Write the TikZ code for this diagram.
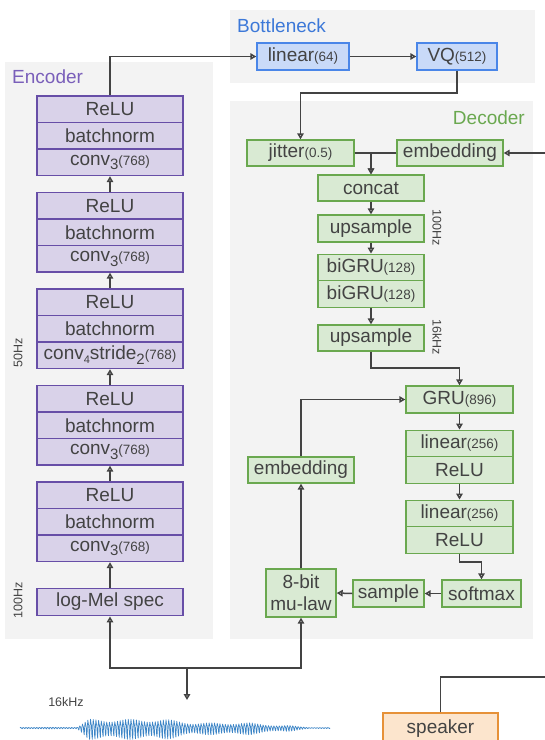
\documentclass[tikz,border=0pt]{standalone}
\usepackage{fontspec}
\setmainfont{Liberation Sans}
\usetikzlibrary{arrows.meta}
\definecolor{encF}{HTML}{D9D2E9}
\definecolor{encB}{HTML}{674EA7}
\definecolor{encT}{HTML}{7A5FBA}
\definecolor{botF}{HTML}{C9DAF8}
\definecolor{botB}{HTML}{4A86E8}
\definecolor{botT}{HTML}{3C78D8}
\definecolor{decF}{HTML}{D9EAD3}
\definecolor{decB}{HTML}{6AA84F}
\definecolor{spkF}{HTML}{FCE5CD}
\definecolor{spkB}{HTML}{E69138}
\definecolor{txt}{HTML}{434343}
\definecolor{panel}{HTML}{F3F3F3}
\definecolor{wav}{HTML}{3D85C6}
\newcommand{\sm}[1]{{\fontsize{13.5}{14}\selectfont #1}}
\newcommand{\sbs}[1]{\raisebox{-4.5pt}{\fontsize{15}{15}\selectfont #1}}
\newcommand{\sbt}[1]{\raisebox{-4pt}{\fontsize{11}{11}\selectfont #1}}
\begin{document}
\begin{tikzpicture}[x=1pt,y=-1pt,
  font=\fontsize{19}{22}\selectfont, text=txt,
  declare function={env(\t)=0.8+9*max(0,min(1,(\t-77)/12))-4*max(0,min(1,(\t-165)/30))-3*max(0,min(1,(\t-250)/30))-2.3*max(0,min(1,(\t-290)/20));},
  box/.style={draw, line width=1.4pt, inner sep=0pt, minimum height=26.5pt, text=txt},
  enc/.style={box, draw=encB, fill=encF, minimum width=146pt},
  bot/.style={box, draw=botB, fill=botF},
  dec/.style={box, draw=decB, fill=decF},
  arr/.style={draw=txt, line width=1.5pt, -{Triangle[open, length=6pt, width=6.5pt]}},
  ln/.style={draw=txt, line width=1.5pt},
  hz/.style={font=\fontsize{12.5}{13}\selectfont, text=txt, inner sep=0pt},
  ttl/.style={inner sep=0pt, font=\fontsize{19}{22}\selectfont}]
\useasboundingbox (0,0) rectangle (545,740);
% panels
\fill[panel] (5,62) rectangle (213,639);
\fill[panel] (230,10) rectangle (535,83);
\fill[panel] (230,101) rectangle (533,639);
\node[ttl, text=encT, anchor=west] (tenc) at (12,77) {Encoder};
\node[ttl, text=botT, anchor=west] (tbot) at (237,26) {Bottleneck};
\node[ttl, text=decB, anchor=east] (tdec) at (525,118) {Decoder};
% encoder
\node[enc] (e1r) at (110,109.25) {ReLU};
\node[enc] (e1b) at (110,135.75) {batchnorm};
\node[enc] (e1c) at (110,162.25) {conv\sbs{3}\sm{(768)}};
\node[enc] (e2r) at (110,205.75) {ReLU};
\node[enc] (e2b) at (110,232.25) {batchnorm};
\node[enc] (e2c) at (110,258.75) {conv\sbs{3}\sm{(768)}};
\node[enc] (e3r) at (110,302.25) {ReLU};
\node[enc] (e3b) at (110,328.75) {batchnorm};
\node[enc] (e3c) at (110,355.25) {conv\sbt{4}stride\sbs{2}\sm{(768)}};
\node[enc] (e4r) at (110,398.75) {ReLU};
\node[enc] (e4b) at (110,425.25) {batchnorm};
\node[enc] (e4c) at (110,451.75) {conv\sbs{3}\sm{(768)}};
\node[enc] (e5r) at (110,495.25) {ReLU};
\node[enc] (e5b) at (110,521.75) {batchnorm};
\node[enc] (e5c) at (110,548.25) {conv\sbs{3}\sm{(768)}};
\node[enc, minimum height=27.5pt] (mel) at (110,602) {log-Mel spec};
\foreach \a/\b in {2/1,3/2,4/3,5/4} \draw[arr] (e\a r.north) -- (e\b c.south);
\draw[arr] (mel.north) -- (e5c.south);
\node[hz, rotate=90] (l50) at (18,353) {50Hz};
\node[hz, rotate=90] (l100a) at (18,600) {100Hz};
% bottleneck
\node[bot, minimum width=92pt, minimum height=27pt] (lin) at (303,56.5) {linear\sm{(64)}};
\node[bot, minimum width=80pt, minimum height=27pt] (vq) at (457,56.5) {VQ\sm{(512)}};
\draw[arr] (e1r.north) |- (lin.west);
\draw[arr] (lin.east) -- (vq.west);
% decoder
\node[dec, minimum width=107pt, minimum height=26pt] (jit) at (300.5,153) {jitter\sm{(0.5)}};
\node[dec, minimum width=106pt, minimum height=26pt] (emb1) at (450,153) {embedding};
\node[dec, minimum width=106pt, minimum height=26pt] (cat) at (371,188) {concat};
\node[dec, minimum width=106pt, minimum height=27pt] (up1) at (371,228.5) {upsample};
\node[dec, minimum width=106pt] (g1) at (371,267.5) {biGRU\sm{(128)}};
\node[dec, minimum width=106pt] (g2) at (371,294) {biGRU\sm{(128)}};
\node[dec, minimum width=106pt, minimum height=26pt] (up2) at (371,338) {upsample};
\node[dec, minimum width=107pt, minimum height=27pt] (gru) at (459.5,399.5) {GRU\sm{(896)}};
\node[dec, minimum width=107pt] (l1a) at (459.5,443.5) {linear\sm{(256)}};
\node[dec, minimum width=107pt] (l1b) at (459.5,470) {ReLU};
\node[dec, minimum width=107pt] (l2a) at (459.5,513.5) {linear\sm{(256)}};
\node[dec, minimum width=107pt] (l2b) at (459.5,540) {ReLU};
\node[dec, minimum width=79pt, minimum height=27pt] (soft) at (481.5,593.5) {softmax};
\node[dec, minimum width=71pt, minimum height=27pt] (samp) at (388.5,593.5) {sample};
\node[dec, minimum width=70pt, minimum height=48pt, align=center] (mu) at (301,593) {8-bit\\mu-law};
\node[dec, minimum width=106pt, minimum height=26pt] (emb2) at (301,470) {embedding};
\node[hz, rotate=-90] (l100b) at (437,228) {100Hz};
\node[hz, rotate=-90] (l16b) at (437,337) {16kHz};
\coordinate (rin) at (548,153);
\draw[arr] (vq.south) -- (vq.south |- 0,93) -| (jit.north);
\draw[arr] (rin) -- (emb1.east);
\draw[arr] (jit.east) -| (cat.north);
\draw[arr] (emb1.west) -| (cat.north);
\draw[arr] (cat.south) -- (up1.north);
\draw[arr] (up1.south) -- (g1.north);
\draw[arr] (g2.south) -- (up2.north);
\draw[arr] (up2.south) -- (up2.south |- 0,368) -| (gru.north);
\draw[arr] (gru.south) -- (l1a.north);
\draw[arr] (l1b.south) -- (l2a.north);
\draw[arr] (l2b.south) -- (l2b.south |- 0,562) -| (soft.north);
\draw[arr] (soft.west) -- (samp.east);
\draw[arr] (samp.west) -- (mu.east);
\draw[arr] (mu.north) -- (emb2.south);
\draw[arr] (emb2.north) |- (gru.west);
% input / output
\coordinate (J) at (187,668);
\coordinate (W) at (187,700);
\draw[arr] (J) -| (mel.south);
\draw[arr] (J) -| (mu.south);
\draw[arr] (J) -- (W);
\node[hz] (l16a) at (66,702) {16kHz};
\foreach \i in {0,...,22}
  \draw[wav, line width=0.7pt, line join=round] plot[domain=0:13.478, samples=31]
    ({20+13.478*\i+\x}, {728 - env(20+13.478*\i+\x)*(0.8*sin(133.55*\x)+0.3*sin(267.1*\x+50))*(1+0.2*sin(9*(20+13.478*\i+\x)))});
\node[box, draw=spkB, fill=spkF, minimum width=115pt, minimum height=32pt] (spk) at (440.5,729) {speaker};
\coordinate (rout) at (548,677);
\draw[ln] (spk.north) |- (rout);
\end{tikzpicture}
\end{document}
